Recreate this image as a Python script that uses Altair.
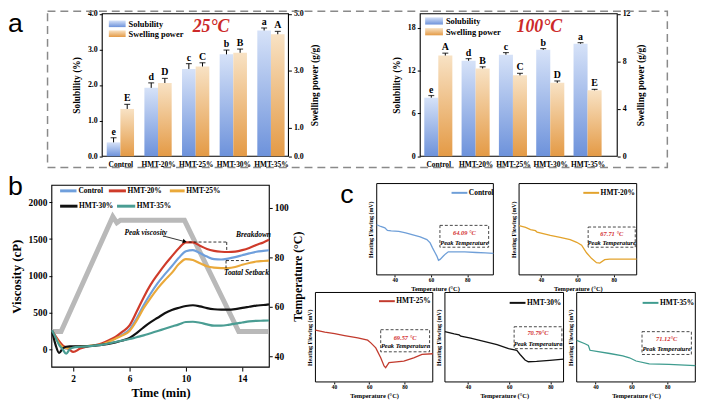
import altair as alt
import pandas as pd

# ======================= DATA =======================
samples = ["Control", "HMT-20%", "HMT-25%", "HMT-30%", "HMT-35%"]
bar_series = ["Solubility", "Swelling power"]

# (a) 25 °C
sol_25 = [0.39, 1.92, 2.45, 2.86, 3.53]
sol_25_err = [0.13, 0.14, 0.15, 0.12, 0.07]
sol_25_sig = ["e", "d", "c", "b", "a"]
swell_25 = [1.66, 2.57, 3.15, 3.63, 4.28]
swell_25_err = [0.16, 0.16, 0.13, 0.13, 0.10]
swell_25_sig = ["E", "D", "C", "B", "A"]

# (a) 100 °C
sol_100 = [8.22, 13.4, 14.25, 14.93, 15.8]
sol_100_err = [0.3, 0.3, 0.3, 0.18, 0.14]
sol_100_sig = ["e", "d", "c", "b", "a"]
swell_100 = [8.48, 7.39, 6.81, 6.18, 5.55]
swell_100_err = [0.2, 0.14, 0.17, 0.16, 0.08]
swell_100_sig = ["A", "B", "C", "D", "E"]

# (b) RVA pasting profiles
rva_series = ["Control", "HMT-20%", "HMT-25%", "HMT-30%", "HMT-35%"]
rva_colors = ["#6f9fdc", "#cf3b2a", "#eaa93a", "#111111", "#4a9d93"]
rva_time = [0.5, 0.75, 1.0, 1.25, 1.5, 1.75, 2.0, 2.5, 3.0, 3.5, 4.0, 4.5, 5.0, 5.5, 6.0, 6.5, 7.0, 7.5,
            8.0, 8.5, 9.0, 9.5, 10.0, 10.5, 11.0, 11.5, 12.0, 12.5, 13.0, 13.5, 14.0, 14.5, 15.0, 15.5, 15.9]
visc_control = [250, 165, 85, 30, 10, 20, 30, 40, 45, 55, 70, 105, 150, 200, 270, 420, 600, 760,
                900, 1020, 1130, 1245, 1335, 1350, 1310, 1262, 1228, 1222, 1235, 1255, 1280, 1305, 1328, 1340, 1348]
visc_hmt20 = [250, 180, 110, 55, 25, -5, -35, 10, 40, 55, 80, 120, 170, 240, 326, 510, 707, 880,
              1020, 1150, 1265, 1375, 1455, 1455, 1410, 1365, 1340, 1328, 1324, 1330, 1350, 1380, 1420, 1455, 1490]
visc_hmt25 = [250, 160, 80, 30, 15, 20, 30, 40, 45, 55, 65, 100, 145, 190, 250, 390, 560, 700,
              830, 940, 1040, 1160, 1228, 1215, 1170, 1130, 1112, 1106, 1106, 1120, 1150, 1175, 1195, 1202, 1208]
visc_hmt30 = [250, 60, -50, 10, 35, 40, 40, 40, 40, 50, 60, 75, 95, 120, 155, 220, 300, 370,
              430, 490, 535, 565, 590, 600, 585, 560, 545, 540, 540, 548, 565, 580, 595, 603, 612]
visc_hmt35 = [260, 160, 60, 0, -60, 0, 25, 35, 40, 50, 60, 80, 100, 120, 140, 165, 190, 220,
              250, 280, 310, 340, 372, 375, 362, 340, 322, 322, 332, 350, 365, 380, 388, 390, 392]
temp_time = [0.5, 1.14, 4.81, 5.1, 5.35, 9.9, 13.75, 15.9]
temp_profile = [50, 50, 96.5, 94, 95, 95, 50, 50]

# (c) DSC thermograms
dsc_colors = ["#6f9fd8", "#e3a32c", "#c23b2e", "#111111", "#3f9c8f"]
peak_labels = ["64.09 °C", "67.71 °C", "69.57 °C", "70.79°C", "71.12°C"]
dsc_control_T = [30, 32.2, 34.5, 35.9, 38, 42.2, 46, 49.5, 54, 57.7, 59.5, 60.8, 62, 63.2, 64.1, 65,
                 66.8, 68, 69.5, 74, 78.6, 85, 90, 94.4]
dsc_control = [54.9, 53.0, 51.5, 48.7, 48.3, 47.7, 46.0, 44.0, 41.5, 38.6, 35.0, 29.6, 25.0, 20.6, 16.0,
               17.0, 20.6, 23.0, 25.3, 25.3, 25.3, 24.5, 24.0, 23.5]
dsc_hmt20_T = [27.9, 31.5, 34.2, 36.9, 37.8, 45.1, 50.5, 56, 59.6, 62.3, 65, 67.7, 70.5, 72.3, 75, 77.7, 85, 92.5]
dsc_hmt20 = [53.8, 52, 49.5, 48.4, 46.9, 43.3, 41.2, 38.6, 35.7, 32.5, 24.2, 18.1, 13.4, 13, 16.6, 17.3, 17.3, 17.3]
dsc_hmt25_T = [29.5, 34.8, 40.4, 46, 53.5, 59.1, 60.9, 63.7, 66.5, 68.4, 69.3, 71.2, 74, 79.6, 85.2, 89.9, 96]
dsc_hmt25 = [57.8, 55.6, 54.0, 51.9, 49.3, 46.7, 43.7, 38.1, 27.0, 17.8, 15.9, 21.5, 22.2, 23.3, 27.0, 30.7, 31.5]
dsc_hmt30_T = [28.8, 33.3, 35.7, 36.5, 41.3, 47.7, 54.1, 59.7, 63.7, 65.3, 67.7, 69.3, 73.3, 79.7, 86.4]
dsc_hmt30 = [56.2, 53.6, 52.6, 51.1, 48.9, 45.3, 41.6, 37.2, 35.4, 30.7, 24.5, 22.6, 23.0, 24.1, 25.5]
dsc_hmt35_T = [29.5, 34.1, 36.0, 36.9, 40.6, 47.9, 55.2, 58.9, 62.6, 69.9, 80.9, 95.6]
dsc_hmt35 = [46.4, 42.7, 40.9, 35.4, 34.3, 31.8, 29.2, 27.0, 23.4, 20.1, 19.7, 18.2]

# ======================= LAYOUT / STYLE =======================
FONT = "Liberation Serif"
W, H = 697, 394
ONE = pd.DataFrame({"k": [0]})

BLUE_GRAD = alt.Gradient(gradient="linear", x1=0, x2=0, y1=0, y2=1,
                         stops=[alt.GradientStop(color="#d6e2f8", offset=0),
                                alt.GradientStop(color="#6d92db", offset=1)])
ORANGE_GRAD = alt.Gradient(gradient="linear", x1=0, x2=0, y1=0, y2=1,
                           stops=[alt.GradientStop(color="#f8e2c4", offset=0),
                                  alt.GradientStop(color="#e49a45", offset=1)])


def ax(**kw):
    base = dict(grid=False, domain=False, labelFont=FONT, labelFontWeight="bold", labelColor="black",
                titleFont=FONT, titleFontWeight="bold", titleColor="black", tickColor="black",
                labelFlush=False)
    base.update(kw)
    return alt.Axis(**base)


def frame(x0, x1, y0, y1, color="black", width=1.0, dash=None):
    props = dict(fillOpacity=0, stroke=color, strokeWidth=width)
    if dash is not None:
        props["strokeDash"] = dash
    return alt.Chart(ONE).mark_rect(**props).encode(
        x=alt.value(x0), x2=alt.value(x1), y=alt.value(y0), y2=alt.value(y1))


def legend_entry(name, color, x0, x1, tx, y, sw, size):
    line = alt.Chart(ONE).mark_rule(color=color, strokeWidth=sw).encode(
        x=alt.value(x0), x2=alt.value(x1), y=alt.value(y))
    label = alt.Chart(pd.DataFrame({"name": [name]})).mark_text(
        font=FONT, fontWeight="bold", fontSize=size, align="left", baseline="middle", color="black").encode(
        x=alt.value(tx), y=alt.value(y), text="name:N")
    return [line, label]


def bar_panel(g, sol, sol_err, sol_sig, sw, sw_err, sw_sig, temp_text, temp_dx, temp_y, leg):
    df = pd.DataFrame({
        "sample": samples,
        "sol": sol, "sol_top": [a + b for a, b in zip(sol, sol_err)], "sol_sig": sol_sig,
        "sw": sw, "sw_top": [a + b for a, b in zip(sw, sw_err)], "sw_sig": sw_sig,
    })
    xs = alt.Scale(type="point", domain=samples, range=[g["c0"], g["c1"]], padding=0)
    yl = alt.Scale(domain=g["ldom"], range=[g["y1"], g["y0"]], nice=False)
    yr = alt.Scale(domain=g["rdom"], range=[g["y1"], g["y0"]], nice=False)
    half = g["bw"] / 2
    base = alt.Chart(df)
    xax = ax(orient="bottom", offset=g["y1"] - H, ticks=False, labelAngle=0, labelFontSize=7.5,
             labelPadding=4, labelOverlap=False, title=None)
    lax = ax(orient="left", offset=-g["x0"], values=g["lticks"], format=g["fmt"], tickSize=3,
             labelFontSize=8, labelPadding=2, title="Solubility (%)", titleFontSize=9.5, titlePadding=6)
    rax = ax(orient="right", offset=g["x1"] - W, values=g["rticks"], format=g["fmt"], tickSize=3,
             labelFontSize=8, labelPadding=2, title="Swelling power (g/g)", titleFontSize=9.5,
             titlePadding=6, titleAngle=270, titleBaseline="top")

    def X(axis=None):
        return alt.X("sample:N", scale=xs, sort=samples, axis=axis)

    out = [frame(g["x0"], g["x1"], g["y0"], g["y1"], width=1.1)]
    for key, top, sig, sc, grad, off, axis in [
        ("sol", "sol_top", "sol_sig", yl, BLUE_GRAD, -half, lax),
        ("sw", "sw_top", "sw_sig", yr, ORANGE_GRAD, half, rax),
    ]:
        out.append(base.mark_bar(color=grad, width=g["bw"], xOffset=off).encode(
            x=X(xax if key == "sol" else None), y=alt.Y(f"{key}:Q", scale=sc, axis=axis)))
        out.append(base.mark_rule(color="black", strokeWidth=1, xOffset=off).encode(
            x=X(), y=alt.Y(f"{key}:Q", scale=sc, axis=None), y2=f"{top}:Q"))
        out.append(base.mark_tick(color="black", size=6, thickness=1.2, xOffset=off,
                                  orient="horizontal").encode(
            x=X(), y=alt.Y(f"{top}:Q", scale=sc, axis=None)))
        out.append(base.mark_text(font=FONT, fontWeight="bold", fontSize=10, baseline="bottom",
                                  dy=-1, xOffset=off, color="black").encode(
            x=X(), y=alt.Y(f"{top}:Q", scale=sc, axis=None), text=f"{sig}:N"))
    # legend
    for i, grad in enumerate([BLUE_GRAD, ORANGE_GRAD]):
        yc = leg["y"][i]
        out.append(alt.Chart(ONE).mark_rect(color=grad).encode(
            x=alt.value(leg["x0"]), x2=alt.value(leg["x1"]),
            y=alt.value(yc - leg["h"] / 2), y2=alt.value(yc + leg["h"] / 2)))
    out.append(alt.Chart(pd.DataFrame({"name": bar_series})).mark_text(
        font=FONT, fontWeight="bold", fontSize=8.5, align="left", baseline="middle", color="black").encode(
        x=alt.value(leg["tx"]),
        y=alt.Y("name:N", scale=alt.Scale(type="point", domain=bar_series, range=leg["y"], padding=0),
                axis=None),
        text="name:N"))
    tdf = pd.DataFrame({"sample": ["HMT-25%"], "v": [temp_y], "label": [temp_text]})
    out.append(alt.Chart(tdf).mark_text(font=FONT, fontWeight="bold", fontStyle="italic", fontSize=18,
                                        color="#cc2a2a", dx=temp_dx, baseline="middle").encode(
        x=X(), y=alt.Y("v:Q", scale=yl, axis=None), text="label:N"))
    return out


layers = []

# dashed frame around panel a
layers.append(frame(40, 667, 1, 159, color="#8a8a8a", width=1.5, dash=[8, 5]))

A1 = dict(x0=95.3, x1=283.7, y0=3.5, y1=147.7, c0=113.7, c1=266.0, bw=13.8,
          ldom=[0, 4], rdom=[0, 5], lticks=[0, 1, 2, 3, 4], rticks=[0, 1, 3, 5], fmt=".1f")
A2 = dict(x0=417, x1=616.3, y0=3.5, y1=147.7, c0=435.3, c1=586.3, bw=14.2,
          ldom=[0, 20], rdom=[0, 12], lticks=[0, 6, 12, 18], rticks=[0, 4, 8, 12], fmt="d")
layers += bar_panel(A1, sol_25, sol_25_err, sol_25_sig, swell_25, swell_25_err, swell_25_sig,
                    "25°C", 15.6, 3.63, dict(x0=102, x1=119, h=6.7, y=[13.7, 23.7], tx=122))
layers += bar_panel(A2, sol_100, sol_100_err, sol_100_sig, swell_100, swell_100_err, swell_100_sig,
                    "100°C", 26.7, 18.1, dict(x0=422, x1=440, h=7.3, y=[10.8, 21.7], tx=443))

# ---------------- panel b ----------------
B = dict(x0=44.3, x1=264.3, y0=177, y1=361)
bx = alt.Scale(domain=[0.48, 15.92], range=[B["x0"], B["x1"]], nice=False, zero=False)
by = alt.Scale(domain=[-242, 2233], range=[B["y1"], B["y0"]], nice=False, zero=False)
bt = alt.Scale(domain=[35.6, 109.2], range=[B["y1"], B["y0"]], nice=False, zero=False)

visc_all = [visc_control, visc_hmt20, visc_hmt25, visc_hmt30, visc_hmt35]
visc_df = pd.DataFrame({
    "time": rva_time * len(rva_series),
    "visc": [v for s in visc_all for v in s],
    "series": [name for name in rva_series for _ in rva_time],
})
temp_df = pd.DataFrame({"time": temp_time, "temp": temp_profile})

bxax = ax(orient="bottom", offset=B["y1"] - H, values=[2, 6, 10, 14], format="d", tickSize=4,
          labelFontSize=9.5, labelPadding=3, title="Time (min)", titleFontSize=12.5, titlePadding=3)
byax = ax(orient="left", offset=-B["x0"], values=[0, 500, 1000, 1500, 2000], format="d", tickSize=3,
          labelFontSize=9.5, labelPadding=2, title="Viscosity (cP)", titleFontSize=13, titlePadding=5)
btax = ax(orient="right", offset=B["x1"] - W, values=[40, 60, 80, 100], format="d", tickSize=3,
          labelFontSize=9.5, labelPadding=2, title="Temperature (°C)", titleFontSize=12,
          titlePadding=4, titleAngle=270, titleBaseline="top")

layers.append(frame(B["x0"], B["x1"], B["y0"], B["y1"], width=1.1))
layers.append(alt.Chart(temp_df).mark_line(color="#b9b9b9", strokeWidth=5).encode(
    x=alt.X("time:Q", scale=bx, axis=None), y=alt.Y("temp:Q", scale=bt, axis=btax)))
layers.append(alt.Chart(visc_df).mark_line(strokeWidth=2.2, interpolate="monotone").encode(
    x=alt.X("time:Q", scale=bx, axis=bxax),
    y=alt.Y("visc:Q", scale=by, axis=byax),
    color=alt.Color("series:N", scale=alt.Scale(domain=rva_series, range=rva_colors), legend=None)))
# legend of panel b (two rows)
b_leg = [
    (52.7, 69.3, 71.3, 182.7), (102.0, 119.3, 120.8, 182.7), (163.7, 178.7, 180.2, 182.7),
    (52.7, 70.3, 71.8, 198.2), (110.3, 128.7, 130.3, 198.2),
]
for name, color, (lx0, lx1, ltx, ly) in zip(rva_series, rva_colors, b_leg):
    layers += legend_entry(name, color, lx0, lx1, ltx, ly, 3, 7.5)

dash_df = pd.DataFrame({"x": [10.2, 12.9, 12.85, 12.85], "x2": [12.9, 12.9, 14.6, 12.85],
                        "y": [1460, 1460, 1208, 1208], "y2": [1460, 1326, 1208, 1106]})
layers.append(alt.Chart(dash_df).mark_rule(color="black", strokeWidth=0.8, strokeDash=[3, 2]).encode(
    x=alt.X("x:Q", scale=bx, axis=None), x2="x2:Q", y=alt.Y("y:Q", scale=by, axis=None), y2="y2:Q"))
arrow_df = pd.DataFrame({"x": [8.39], "x2": [9.8], "y": [1543], "y2": [1472]})
layers.append(alt.Chart(arrow_df).mark_rule(color="black", strokeWidth=0.8).encode(
    x=alt.X("x:Q", scale=bx, axis=None), x2="x2:Q", y=alt.Y("y:Q", scale=by, axis=None), y2="y2:Q"))
head_df = pd.DataFrame({"x": [9.92], "y": [1466]})
layers.append(alt.Chart(head_df).mark_point(shape="triangle-right", filled=True, color="black", size=22,
                                            angle=15, opacity=1).encode(
    x=alt.X("x:Q", scale=bx, axis=None), y=alt.Y("y:Q", scale=by, axis=None)))
note_df = pd.DataFrame({"x": [7.15, 14.8, 14.3], "y": [1584, 1560, 1043],
                        "label": ["Peak viscosity", "Breakdown", "Toatal Setback"]})
layers.append(alt.Chart(note_df).mark_text(font=FONT, fontStyle="italic", fontWeight="bold", fontSize=7.5,
                                           color="black").encode(
    x=alt.X("x:Q", scale=bx, axis=None), y=alt.Y("y:Q", scale=by, axis=None), text="label:N"))


# ---------------- panel c ----------------
def dsc_panel(g, name, color, T, v, box, peak_label, leg):
    xs = alt.Scale(domain=g["dom"], range=[g["x0"], g["x1"]], nice=False, zero=False)
    ys = alt.Scale(domain=[0, 100], range=[g["y1"], g["y0"]], nice=False, zero=False)
    df = pd.DataFrame({"T": T, "v": v})
    xax = ax(orient="bottom", offset=g["y1"] - H, values=[40, 60, 80], format="d", tickSize=2,
             labelFontSize=5.5, labelPadding=1, title="Temperature (°C)", titleFontSize=6.5, titlePadding=2)
    yax = ax(orient="left", offset=-g["x0"], ticks=False, labels=False, title="Heating Flowing (mV)",
             titleFontSize=6, titlePadding=3)
    out = [frame(g["x0"], g["x1"], g["y0"], g["y1"], width=1.0)]
    out.append(alt.Chart(df).mark_line(strokeWidth=1.3, color=color).encode(
        x=alt.X("T:Q", scale=xs, axis=xax), y=alt.Y("v:Q", scale=ys, axis=yax)))
    out += legend_entry(name, color, leg[0], leg[0] + 16, leg[0] + 17.5, leg[1], 2, 7.5)
    boxdf = pd.DataFrame({"x": [box[0]], "x2": [box[1]], "y": [box[2]], "y2": [box[3]]})
    out.append(alt.Chart(boxdf).mark_rect(fillOpacity=0, stroke="#333333", strokeWidth=0.9,
                                          strokeDash=[3, 2]).encode(
        x=alt.X("x:Q", scale=xs, axis=None), x2="x2:Q", y=alt.Y("y:Q", scale=ys, axis=None), y2="y2:Q"))
    txt = pd.DataFrame({"x": [box[4], box[4]], "y": [box[5], box[6]],
                        "label": [peak_label, "Peak Temperature"], "kind": ["peak", "name"]})
    out.append(alt.Chart(txt).mark_text(font=FONT, fontStyle="italic", fontWeight="bold",
                                        fontSize=6.5).encode(
        x=alt.X("x:Q", scale=xs, axis=None), y=alt.Y("y:Q", scale=ys, axis=None), text="label:N",
        color=alt.Color("kind:N", scale=alt.Scale(domain=["peak", "name"], range=["#d22f2f", "black"]),
                        legend=None)))
    return out


C_geo = [
    dict(x0=373, x1=491, y0=175.3, y1=267.7, dom=[30, 94.4]),
    dict(x0=517, x1=636, y0=175.3, y1=267.7, dom=[27.9, 92.6]),
    dict(x0=311, x1=429.7, y0=285.5, y1=376, dom=[29.5, 96]),
    dict(x0=442, x1=562, y0=285.5, y1=376, dom=[28.8, 86.4]),
    dict(x0=575.3, x1=695.3, y0=285.5, y1=376, dom=[29.5, 95.6]),
]
C_box = [
    (64.9, 91.8, 30.3, 54.2, 78.4, 45.6, 35.4),
    (65.9, 91.8, 30.3, 52.4, 78.9, 44.8, 35.3),
    (66.5, 94.2, 33.7, 58.4, 80.3, 49.2, 40.7),
    (62.4, 85.6, 37.2, 61.7, 74.0, 54.4, 42.7),
    (65.9, 93.4, 30.7, 56.2, 79.6, 48.2, 36.5),
]
C_leg = [(448.7, 184.7), (582, 184.7), (375.3, 294.3), (507.5, 296), (642, 296)]
dsc_T = [dsc_control_T, dsc_hmt20_T, dsc_hmt25_T, dsc_hmt30_T, dsc_hmt35_T]
dsc_v = [dsc_control, dsc_hmt20, dsc_hmt25, dsc_hmt30, dsc_hmt35]
for i in range(5):
    layers += dsc_panel(C_geo[i], samples[i], dsc_colors[i], dsc_T[i], dsc_v[i], C_box[i],
                        peak_labels[i], C_leg[i])

# panel letters
for letter, lx, lyb in [("a", 0, 22), ("b", 0, 187), ("c", 336, 195)]:
    layers.append(alt.Chart(ONE).mark_text(text=letter, font="Liberation Sans", fontSize=27, align="left",
                                           baseline="alphabetic", color="black").encode(
        x=alt.value(lx), y=alt.value(lyb)))

chart = (alt.layer(*layers)
         .resolve_scale(x="independent", y="independent", color="independent")
         .resolve_axis(x="independent", y="independent")
         .resolve_legend(color="independent")
         .properties(width=W, height=H, autosize=alt.AutoSizeParams(type="none"), padding=0)
         .configure_view(stroke=None))

chart.save("out.html", embed_options={"renderer": "svg", "actions": False})
